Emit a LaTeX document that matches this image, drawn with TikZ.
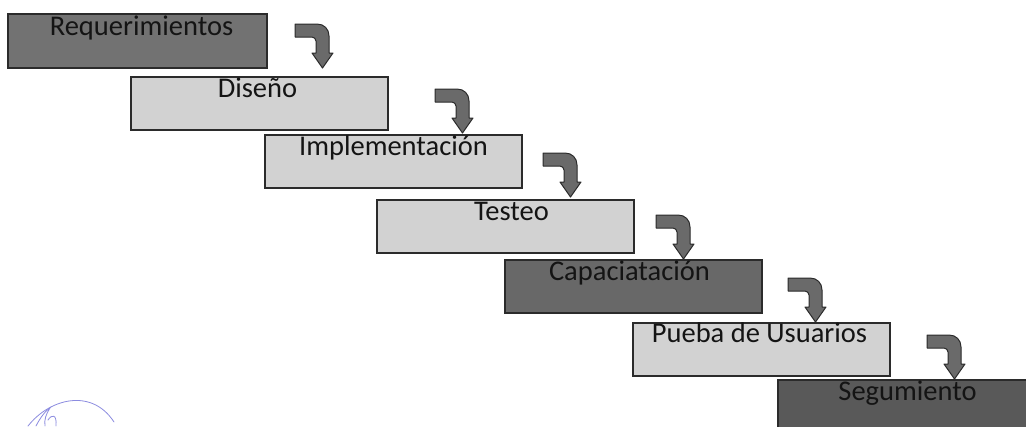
\documentclass[tikz,border=0pt]{standalone}
\usepackage{fontspec}
\setmainfont{Carlito}
\usetikzlibrary{calc}
\definecolor{edge}{HTML}{2B2B2B}
\definecolor{lightbox}{HTML}{D2D2D2}
\definecolor{darkboxA}{HTML}{727272}
\definecolor{darkboxB}{HTML}{686868}
\definecolor{darkboxC}{HTML}{595959}
\definecolor{arrowfill}{HTML}{6A6A6A}
\definecolor{ink}{HTML}{141414}
\definecolor{sigblue}{HTML}{8C8CE0}
\begin{document}
\begin{tikzpicture}[x=1pt,y=-1pt,
  box/.style={draw=edge, line width=1.8pt, minimum width=257pt, minimum height=53pt, inner sep=0pt, outer sep=0pt, anchor=north west},
  lightstep/.style={box, fill=lightbox},
  darkstep/.style={box, fill=#1},
  lbl/.style={anchor=base, text=ink, font=\fontsize{28.5}{31}\selectfont, inner sep=0pt},
  bendarrow/.pic={\filldraw[fill=arrowfill, draw=edge, line width=1pt, line join=round]
    (0,0) -- (22,0) .. controls (29,0) and (34,5) .. (34,12) -- (34,29) -- (38,29)
    -- (27.5,44) -- (17,29) -- (21,29) -- (21,17) .. controls (21,15) and (19,13) .. (17,13)
    -- (0,13) -- cycle;},
  sig/.style={draw=sigblue, line width=0.8pt, line cap=round}
]
\useasboundingbox (0,0) rectangle (1026,426);
\clip (0,0) rectangle (1026,426);
\fill[white] (0,0) rectangle (1026,426);

\node[darkstep=darkboxA, minimum width=259pt, minimum height=54pt] (b1) at (8,14) {};
\node[lightstep] (b2) at (131,77) {};
\node[lightstep] (b3) at (265,135) {};
\node[lightstep] (b4) at (377,200) {};
\node[darkstep=darkboxB] (b5) at (505,260) {};
\node[lightstep] (b6) at (633,323) {};
\node[darkstep=darkboxC] (b7) at (778,380) {};

\node[lbl] (t1) at ($(b1.north)+(4,21)$) {Requerimientos};
\node[lbl] (t2) at ($(b2.north)+(-2,20)$) {Diseño};
\node[lbl] (t3) at ($(b3.north)+(0,20)$) {Implementación};
\node[lbl] (t4) at ($(b4.north)+(6,20)$) {Testeo};
\node[lbl] (t5) at ($(b5.north)+(-4,20)$) {Capaciatación};
\node[lbl] (t6) at ($(b6.north)+(-2,19)$) {Pueba de Usuarios};
\node[lbl] (t7) at ($(b7.north)+(1,20)$) {Segumiento};

\pic at ($(b1.north east)+(28,10)$) {bendarrow};
\pic at ($(b2.north east)+(47,12)$) {bendarrow};
\pic at ($(b3.north east)+(21,18)$) {bendarrow};
\pic at ($(b4.north east)+(22,15)$) {bendarrow};
\pic at ($(b5.north east)+(26,18)$) {bendarrow};
\pic at ($(b6.north east)+(37,12)$) {bendarrow};

% faint signature in the lower left corner
\path[sig] (28,426) .. controls (50,398) and (92,388) .. (114,422);
\path[sig] (36,426) .. controls (40,418) and (46,410) .. (50,408)
  .. controls (46,414) and (44,420) .. (45,426);
\path[sig] (48,420) .. controls (52,414) and (57,414) .. (56,426);
\end{tikzpicture}
\end{document}
